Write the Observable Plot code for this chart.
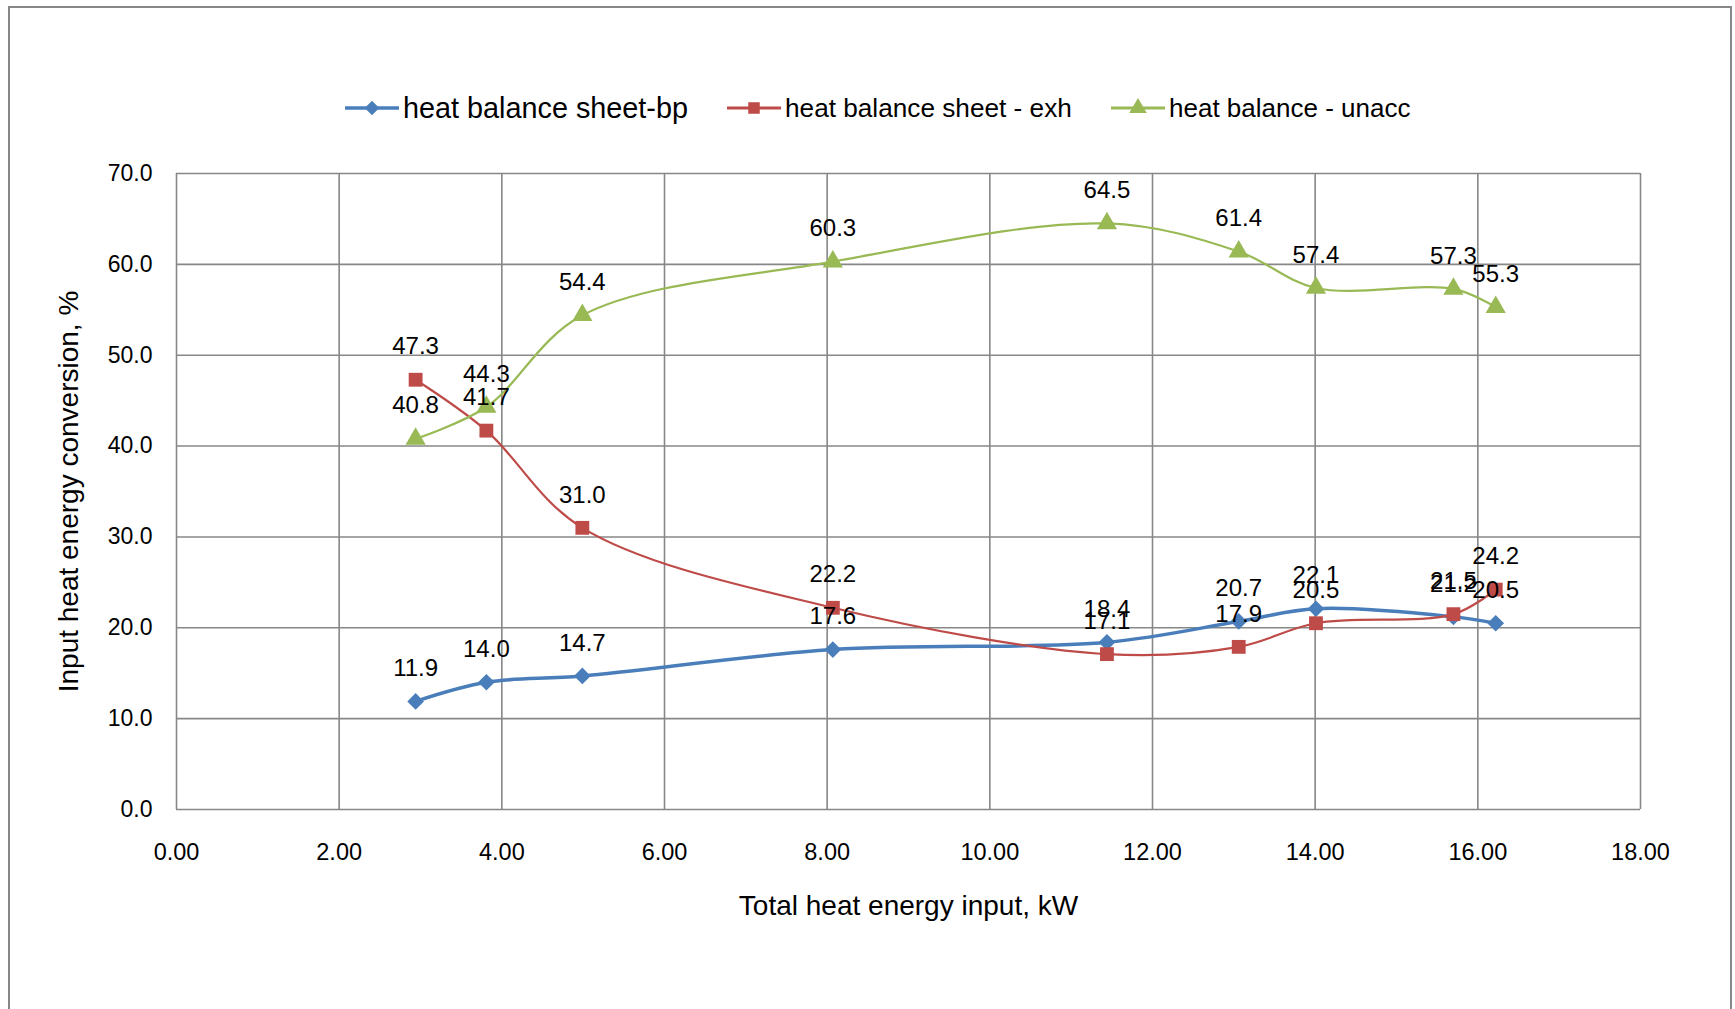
<!DOCTYPE html>
<html>
<head>
<meta charset="utf-8">
<script src="https://cdn.jsdelivr.net/npm/d3@7"></script>
<script src="https://cdn.jsdelivr.net/npm/@observablehq/plot@0.6"></script>
<style>
  body { margin: 0; background: #fff; font-family: "Liberation Sans", Arial, sans-serif; }
  #wrap { position: relative; width: 1735px; height: 1009px; overflow: hidden; background: #fff; }
  #border { position: absolute; left: 8px; top: 6px; width: 1724px; height: 1100px; border: 2px solid #878787; box-sizing: border-box; pointer-events: none; }
  #legend { position: relative; height: 140px; }
  .item { position: absolute; top: 90px; height: 36px; display: flex; align-items: center; white-space: nowrap; color: #000; }
  .item svg { margin-right: 3px; }
  #chart svg { display: block; }
</style>
</head>
<body>
<div id="wrap">
  <div id="legend"></div>
  <div id="chart"></div>
  <div id="border"></div>
</div>
<script>
// ---- data ----
const heatInput = [2.94, 3.81, 4.99, 8.07, 11.44, 13.06, 14.01, 15.70, 16.22];
const bpValues = [11.9, 14.0, 14.7, 17.6, 18.4, 20.7, 22.1, 21.2, 20.5];
const exhValues = [47.3, 41.7, 31.0, 22.2, 17.1, 17.9, 20.5, 21.5, 24.2];
const unaccValues = [40.8, 44.3, 54.4, 60.3, 64.5, 61.4, 57.4, 57.3, 55.3];
const seriesNames = ["heat balance sheet-bp", "heat balance sheet - exh", "heat balance - unacc"];
const xTicks = [0, 2, 4, 6, 8, 10, 12, 14, 16, 18];
const yTicks = [0, 10, 20, 30, 40, 50, 60, 70];

// ---- styles ----
const seriesStyle = [
  {color: "#4A7EBB", symbol: "diamond2", r: 7.5, width: 3.5, legendFont: 28.8},
  {color: "#BE4B48", symbol: "square", r: 7.8, width: 2.2, legendFont: 26.2},
  {color: "#98B954", symbol: "triangle", r: 7.5, width: 2.2, legendFont: 26}
];
const seriesValues = [bpValues, exhValues, unaccValues];

const rows = seriesNames.map((name, s) =>
  heatInput.map((x, i) => ({series: name, s, x, y: seriesValues[s][i]}))
);

// ---- legend ----
const legendLeft = [344, 726, 1110];
const legend = document.getElementById("legend");
seriesNames.forEach((name, s) => {
  const st = seriesStyle[s];
  const item = document.createElement("div");
  item.className = "item";
  item.style.left = legendLeft[s] + "px";
  item.style.fontSize = st.legendFont + "px";
  const sym = d3.symbol(
    s === 0 ? d3.symbolDiamond2 : s === 1 ? d3.symbolSquare : d3.symbolTriangle,
    Math.PI * 6.5 * 6.5
  )();
  item.innerHTML =
    `<svg width="56" height="24" viewBox="0 0 56 24">` +
    `<line x1="1" x2="55" y1="12" y2="12" stroke="${st.color}" stroke-width="${Math.max(3, st.width)}"/>` +
    `<path d="${sym}" transform="translate(28,12)" fill="${st.color}"/>` +
    `</svg><span>${name}</span>`;
  legend.appendChild(item);
});

// ---- chart ----
const marks = [
  Plot.ruleX(xTicks, {stroke: "#878787", strokeWidth: 1.6}),
  Plot.ruleY(yTicks, {stroke: "#878787", strokeWidth: 1.6}),
  Plot.axisX({ticks: xTicks, tickFormat: d3.format(".2f"), tickSize: 0, tickPadding: 34, fontSize: 23.5, label: null}),
  Plot.axisY({ticks: yTicks, tickFormat: d3.format(".1f"), tickSize: 0, tickPadding: 24, fontSize: 23, label: null}),
  Plot.text(["Total heat energy input, kW"], {frameAnchor: "bottom", dy: 97, fontSize: 28, fill: "#000", textAnchor: "middle", lineAnchor: "middle"}),
  Plot.text(["Input heat energy conversion, %"], {frameAnchor: "left", dx: -107, rotate: -90, fontSize: 28, fill: "#000", textAnchor: "middle", lineAnchor: "middle"})
];
rows.forEach((data, s) => {
  const st = seriesStyle[s];
  marks.push(Plot.line(data, {x: "x", y: "y", stroke: st.color, strokeWidth: st.width, curve: "catmull-rom"}));
  marks.push(Plot.dot(data, {x: "x", y: "y", symbol: () => st.symbol, r: st.r, fill: st.color, stroke: "none"}));
});
rows.forEach((data) => {
  marks.push(Plot.text(data, {x: "x", y: "y", text: d => d.y.toFixed(1), dy: -33, fontSize: 24, fill: "#000"}));
});

const chart = Plot.plot({
  width: 1735,
  height: 869,
  marginTop: 33,
  marginBottom: 200,
  marginLeft: 176,
  marginRight: 95,
  x: {domain: [0, 18]},
  y: {domain: [0, 70]},
  symbol: {type: "identity"},
  style: {fontFamily: "'Liberation Sans', Arial, sans-serif", color: "#000", background: "#fff", overflow: "visible"},
  marks
});
document.getElementById("chart").appendChild(chart);
</script>
</body>
</html>
